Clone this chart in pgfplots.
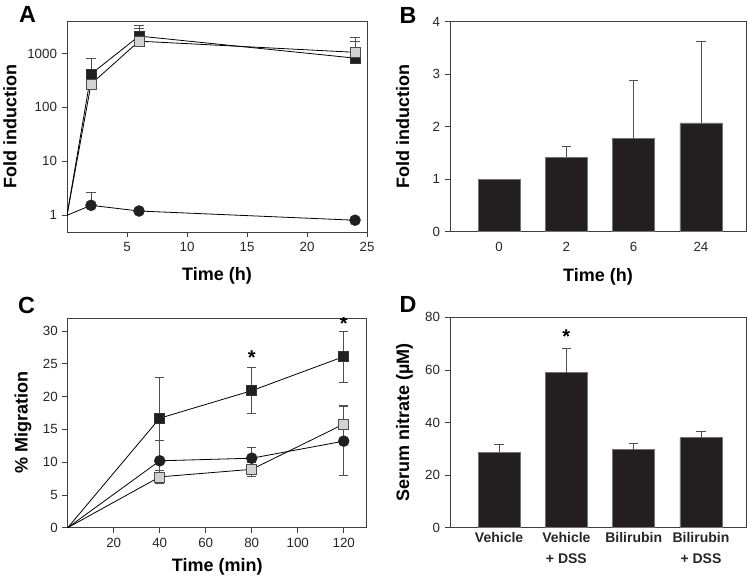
\documentclass[border=0pt]{standalone}
\usepackage{pgfplots}
\pgfplotsset{compat=1.18}
\usepackage{fontspec}
\setmainfont{Liberation Sans}

\definecolor{barblack}{HTML}{231F20}
\definecolor{lgray}{HTML}{D2D2D2}
\definecolor{ebar}{HTML}{505050}

\pgfplotsset{
 every axis/.append style={
  scale only axis,
  /pgf/number format/assume math mode=true,
  tick label style={font=\fontsize{10}{12}\selectfont, color=black!85},
  label style={font=\fontsize{13.5}{16}\selectfont\bfseries},
  axis line style={black!75, line width=0.6pt},
  tick align=outside,
  xtick pos=bottom, ytick pos=left,
  major tick length=4pt, minor tick length=2.5pt,
  tick style={black!75, line width=0.5pt},
 },
 lineonly/.style={black, line width=0.6pt, mark=none, forget plot},
 ebonly/.style={draw=none, mark=none, forget plot},
 bsq/.style={only marks, mark=square*, mark size=3.75pt, mark options={fill=barblack, draw=black!80, line width=0.5pt}},
 gsq/.style={only marks, mark=square*, mark size=3.75pt, mark options={fill=lgray, draw=black!70, line width=0.5pt}},
 bci/.style={only marks, mark=*, mark size=4.1pt, mark options={fill=barblack, draw=barblack}},
 ebplus/.style={error bars/.cd, y dir=plus, y explicit, error mark=-, error mark options={rotate=90, mark size=3.5pt, line width=0.6pt, ebar}, error bar style={line width=0.6pt, ebar}},
 ebboth/.style={error bars/.cd, y dir=both, y explicit, error mark=-, error mark options={rotate=90, mark size=3.5pt, line width=0.6pt, ebar}, error bar style={line width=0.6pt, ebar}},
}

\begin{document}
\begin{tikzpicture}
\useasboundingbox (0pt,0pt) rectangle (561pt,435.75pt);

% ---------------- Panel A ----------------
\begin{axis}[
  at={(50.25pt,261.75pt)}, anchor=south west,
  width=225pt, height=158.25pt,
  xmin=0, xmax=25,
  ymode=log, log basis y=10,
  ymin=0.49, ymax=4000,
  xtick={5,10,15,20,25},
  ytick={1,10,100,1000},
  yticklabels={1,10,100,1000},
  xlabel={Time (h)}, ylabel={Fold induction},
  xlabel style={at={(axis description cs:0.5,-0.21)}, anchor=center},
  ylabel style={at={(axis description cs:-0.19,0.5)}, anchor=center},
]
\addplot[lineonly] coordinates {(0,1) (2,1.53) (6,1.2) (24,0.81)};
\addplot[lineonly] coordinates {(0,1) (2,415) (6,2100) (24,820)};
\addplot[lineonly] coordinates {(0,1) (2,270) (6,1690) (24,1050)};
\addplot[ebonly, ebplus] coordinates {(2,1.53) +- (0,1.07)};
\addplot[ebonly, ebplus] coordinates {(2,415) +- (0,380) (6,2100) +- (0,1250) (24,820) +- (0,820)};
\addplot[ebonly, ebplus] coordinates {(6,1690) +- (0,1260) (24,1050) +- (0,950)};
\addplot[bci] coordinates {(2,1.53) (6,1.2) (24,0.81)};
\addplot[bsq] coordinates {(2,415) (6,2100) (24,820)};
\addplot[gsq] coordinates {(2,270) (6,1690) (24,1050)};
\end{axis}

% ---------------- Panel B ----------------
\begin{axis}[
  at={(337.5pt,262pt)}, anchor=south west,
  width=222pt, height=157.5pt,
  xmin=-0.73, xmax=3.67,
  ymin=0, ymax=4,
  xtick={0,1,2,3}, xticklabels={0,2,6,24},
  xtick style={draw=none},
  ytick={0,1,2,3,4},
  xlabel={Time (h)}, ylabel={Fold induction},
  xlabel style={at={(axis description cs:0.5,-0.214)}, anchor=center},
  ylabel style={at={(axis description cs:-0.16,0.5)}, anchor=center},
]
\addplot[ybar, bar width=31.5pt, fill=barblack, draw=black!55, line width=0.5pt] coordinates {(0,1.0) (1,1.42) (2,1.77) (3,2.07)};
\addplot[ebonly, ebplus] coordinates {(1,1.42) +- (0,0.2) (2,1.77) +- (0,1.12) (3,2.07) +- (0,1.56)};
\end{axis}

% ---------------- Panel C ----------------
\begin{axis}[
  at={(50.8pt,40pt)}, anchor=south west,
  width=224.25pt, height=157.3pt,
  xmin=0, xmax=130,
  ymin=0, ymax=32,
  xtick={20,40,60,80,100,120},
  ytick={0,5,10,15,20,25,30},
  xlabel={Time (min)}, ylabel={\% Migration},
  xlabel style={at={(axis description cs:0.5,-0.186)}, anchor=center},
  ylabel style={at={(axis description cs:-0.15,0.5)}, anchor=center},
]
\addplot[lineonly] coordinates {(0,0) (40,16.7) (80,20.9) (120,26.1)};
\addplot[lineonly] coordinates {(0,0) (40,10.2) (80,10.6) (120,13.2)};
\addplot[lineonly] coordinates {(0,0) (40,7.75) (80,8.9) (120,15.8)};
\addplot[ebonly, ebboth] coordinates {(40,16.7) +- (0,6.2) (80,20.9) +- (0,3.5) (120,26.1) +- (0,3.9)};
\addplot[ebonly, ebboth] coordinates {(40,10.2) +- (0,3.1) (80,10.6) +- (0,1.7) (120,13.2) +- (0,5.3)};
\addplot[ebonly, ebboth] coordinates {(40,7.75) +- (0,1.0) (80,8.9) +- (0,1.05) (120,15.8) +- (0,2.9)};
\addplot[bsq] coordinates {(40,16.7) (80,20.9) (120,26.1)};
\addplot[bci] coordinates {(40,10.2) (80,10.6) (120,13.2)};
\addplot[gsq] coordinates {(40,7.75) (80,8.9) (120,15.8)};
\node[font=\fontsize{15}{15}\selectfont\bfseries] at (axis cs:80,26.0) {*};
\node[font=\fontsize{15}{15}\selectfont\bfseries] at (axis cs:120,31.1) {*};
\end{axis}

% ---------------- Panel D ----------------
\begin{axis}[
  at={(337.5pt,40pt)}, anchor=south west,
  width=222pt, height=157.8pt,
  xmin=-0.73, xmax=3.67,
  ymin=0, ymax=80,
  xtick={0,1,2,3},
  xticklabels={Vehicle, Vehicle\\+ DSS, Bilirubin, Bilirubin\\+ DSS},
  xticklabel style={font=\fontsize{10.5}{16}\selectfont\bfseries, align=center, anchor=north, yshift=4pt},
  xtick style={draw=none},
  ytick={0,20,40,60,80},
  ylabel={Serum nitrate (µM)},
  ylabel style={at={(axis description cs:-0.154,0.5)}, anchor=center},
]
\addplot[ybar, bar width=31.5pt, fill=barblack, draw=black!55, line width=0.5pt] coordinates {(0,28.7) (1,59.0) (2,29.6) (3,34.2)};
\addplot[ebonly, ebplus] coordinates {(0,28.7) +- (0,2.9) (1,59.0) +- (0,9.0) (2,29.6) +- (0,2.3) (3,34.2) +- (0,2.3)};
\node[font=\fontsize{15}{15}\selectfont\bfseries] at (axis cs:1,72.5) {*};
\end{axis}

% panel letters
\node[font=\fontsize{17.5}{18}\selectfont\bfseries] at (20.6pt,424.9pt) {A};
\node[font=\fontsize{17.5}{18}\selectfont\bfseries] at (306pt,424.5pt) {B};
\node[font=\fontsize{17.5}{18}\selectfont\bfseries] at (19.9pt,207pt) {C};
\node[font=\fontsize{17.5}{18}\selectfont\bfseries] at (306pt,207.75pt) {D};
\end{tikzpicture}
\end{document}
